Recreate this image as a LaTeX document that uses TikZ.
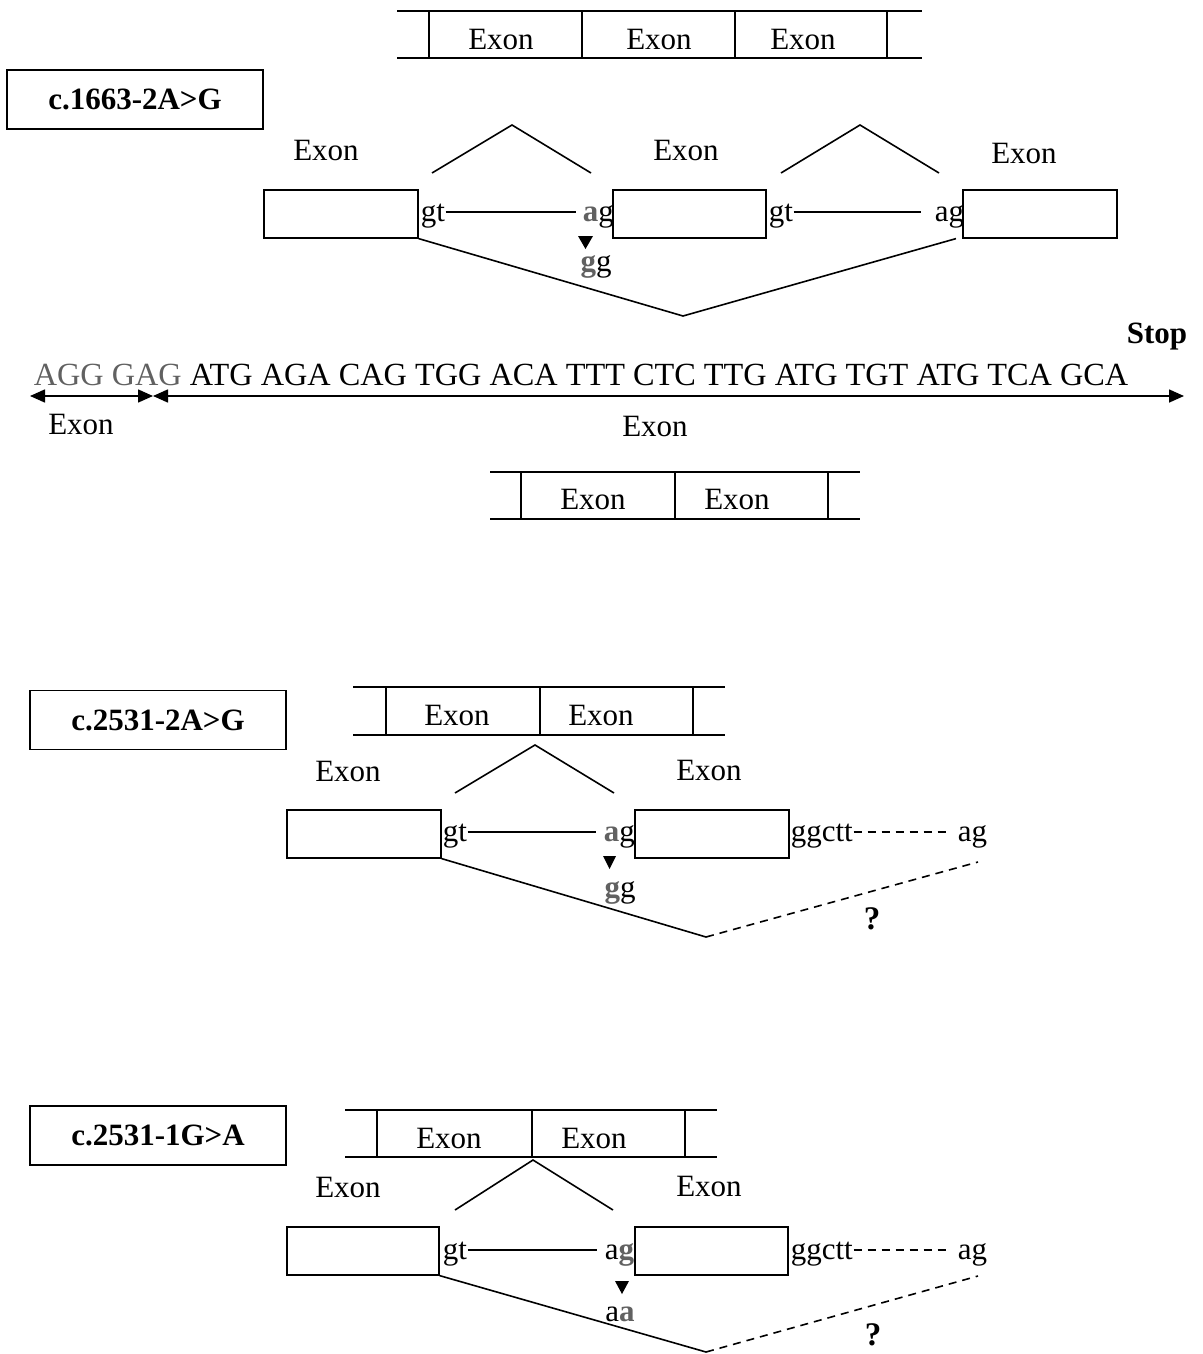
\documentclass[tikz,border=0pt]{standalone}
\usepackage{fontspec}
\setmainfont{Liberation Serif}
\usetikzlibrary{arrows.meta}
\definecolor{mutgray}{gray}{0.38}
\begin{document}
\begin{tikzpicture}[x=1pt,y=-1pt, line width=1.6pt,
  every node/.style={inner sep=0pt, font=\fontsize{31}{37}\selectfont},
  txt/.style={anchor=base},
  sm/.style={anchor=base west, text height=26pt, text depth=8pt},
  exbox/.style={draw, minimum height=48pt, anchor=north west},
  lab/.style={draw, minimum width=256pt, minimum height=59pt, font=\fontsize{31}{37}\selectfont\bfseries},
  dsh/.style={dash pattern=on 8pt off 6pt},
  arr/.style={arrows={Triangle[length=15pt,width=13pt]-Triangle[length=15pt,width=13pt]}}
]
\useasboundingbox (0,0) rectangle (1202,1354);

% ===== Section 1 =====
\draw (397,11) -- (922,11) (397,58) -- (922,58);
\draw (429,11) -- (429,58) (582,11) -- (582,58) (735,11) -- (735,58) (887,11) -- (887,58);
\node[txt] (sa1) at (501,49) {Exon};
\node[txt] (sa2) at (659,49) {Exon};
\node[txt] (sa3) at (803,49) {Exon};

\node[lab] (m1) at (135,99.5) {c.1663-2A>G};

\node[txt] (e1) at (326,160) {Exon};
\node[txt] (e2) at (686,160) {Exon};
\node[txt] (e3) at (1024,163) {Exon};

\draw (432,173) -- (512,125) -- (591,173);
\draw (781,173) -- (860,125) -- (939,173);

\node[exbox, minimum width=154pt] (b1) at (263,189) {};
\node[exbox, minimum width=153pt] (b2) at (612,189) {};
\node[exbox, minimum width=154pt] (b3) at (962,189) {};

\node[sm] (gt1) at (420,221) {gt};
\node[sm] (ag1) at (582,221) {{\bfseries\color{mutgray}a}g};
\draw[shorten >=6pt] (gt1.east) -- (ag1.west);
\node[sm] (gt2) at (768,221) {gt};
\node[sm] (ag2) at (934,221) {ag};
\draw[shorten >=13pt] (gt2.east) -- (ag2.west);

\fill (578,236) -- (593,236) -- (585.5,249) -- cycle;
\node[txt] (gg1) at (596,271) {{\bfseries\color{mutgray}g}g};

\coordinate (v1) at (683,316);
\draw (b1.south east) -- (v1) -- ([xshift=-6pt]b3.south west);

% ===== Sequence =====
\node[anchor=base east, font=\fontsize{31}{37}\selectfont\bfseries] (stop) at (1188,343) {Stop};
\node[anchor=base west, font=\fontsize{32.3}{38}\selectfont] (seq) at (33,385)
  {{\color{mutgray}AGG GAG} ATG AGA CAG TGG ACA TTT CTC TTG ATG TGT ATG TCA GCA};
\coordinate (aL) at (30,396);
\coordinate (aM) at (153,396);
\coordinate (aR) at (1184,396);
\draw[arr] (aL) -- (aM);
\draw[arr] (aM) -- (aR);
\node[txt] (x1) at (81,434) {Exon};
\node[txt] (x2) at (655,436) {Exon};

\draw (490,472) -- (860,472) (490,519) -- (860,519);
\draw (521,472) -- (521,519) (675,472) -- (675,519) (828,472) -- (828,519);
\node[txt] (sb1) at (593,509) {Exon};
\node[txt] (sb2) at (737,509) {Exon};

% ===== Section 2 =====
\node[lab] (m2) at (158,720) {c.2531-2A>G};
\draw (353,687) -- (725,687) (353,735) -- (725,735);
\draw (386,687) -- (386,735) (540,687) -- (540,735) (693,687) -- (693,735);
\node[txt] (sc1) at (457,725) {Exon};
\node[txt] (sc2) at (601,725) {Exon};

\draw (455,793) -- (535,745) -- (614,793);
\node[txt] (e4) at (348,781) {Exon};
\node[txt] (e5) at (709,780) {Exon};

\node[exbox, minimum width=154pt] (b4) at (286,809) {};
\node[exbox, minimum width=154pt] (b5) at (634,809) {};

\node[sm] (gt3) at (442,841) {gt};
\node[sm] (ag3) at (603,841) {{\bfseries\color{mutgray}a}g};
\draw[shorten >=7pt] (gt3.east) -- (ag3.west);
\node[sm] (gc1) at (790,841) {ggctt};
\node[sm] (ag4) at (957,841) {ag};
\draw[dsh, shorten >=8pt] (gc1.east) -- (ag4.west);

\fill (603,856) -- (616,856) -- (609.5,869) -- cycle;
\node[txt] (gg3) at (620,897) {{\bfseries\color{mutgray}g}g};

\coordinate (v2) at (706,937);
\coordinate (w2) at (978,862);
\draw (b4.south east) -- (v2);
\draw[dsh] (v2) -- (w2);
\node[txt, font=\fontsize{33}{37}\selectfont\bfseries] (q1) at (872,929) {?};

% ===== Section 3 =====
\node[lab] (m3) at (158,1135.5) {c.2531-1G>A};
\draw (345,1110) -- (717,1110) (345,1157) -- (717,1157);
\draw (377,1110) -- (377,1157) (532,1110) -- (532,1157) (685,1110) -- (685,1157);
\node[txt] (sd1) at (449,1148) {Exon};
\node[txt] (sd2) at (594,1148) {Exon};

\draw (455,1210) -- (533,1160) -- (613,1210);
\node[txt] (e6) at (348,1197) {Exon};
\node[txt] (e7) at (709,1196) {Exon};

\node[exbox, minimum width=152pt] (b6) at (286,1226) {};
\node[exbox, minimum width=153pt] (b7) at (634,1226) {};

\node[sm] (gt4) at (442,1259) {gt};
\node[sm] (ag5) at (604,1259) {a{\bfseries\color{mutgray}g}};
\draw[shorten >=7pt] (gt4.east) -- (ag5.west);
\node[sm] (gc2) at (790,1259) {ggctt};
\node[sm] (ag6) at (957,1259) {ag};
\draw[dsh, shorten >=8pt] (gc2.east) -- (ag6.west);

\fill (615,1281) -- (629,1281) -- (622,1294) -- cycle;
\node[txt] (aa1) at (620,1321) {a{\bfseries\color{mutgray}a}};

\coordinate (v3) at (706,1352);
\coordinate (w3) at (978,1276);
\draw (b6.south east) -- (v3);
\draw[dsh] (v3) -- (w3);
\node[txt, font=\fontsize{33}{37}\selectfont\bfseries] (q2) at (873,1345) {?};
\end{tikzpicture}
\end{document}
